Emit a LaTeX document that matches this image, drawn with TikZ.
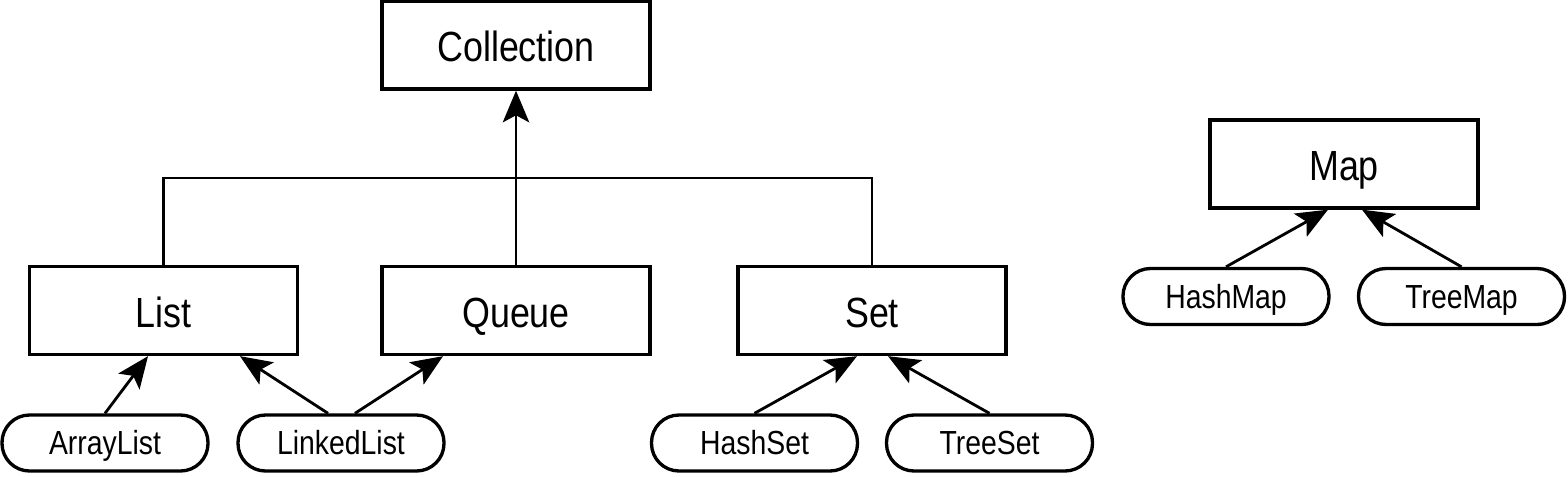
\documentclass[tikz,border=0pt]{standalone}
\usepackage{fontspec}
\usepackage{tikz}
\usetikzlibrary{positioning,arrows.meta}
\newfontfamily\narrowsans{Liberation Sans}[FakeStretch=0.85]

\begin{document}
\begin{tikzpicture}[every node/.style={font=\narrowsans}]
  \tikzset{
      iface/.style={draw, line width=1.9pt, minimum width=5.36cm, minimum height=1.76cm, text height=22pt, text depth=3pt, font=\narrowsans\fontsize{24}{28}\selectfont},
      impl/.style={draw, rounded corners=0.55cm, line width=1.9pt, minimum width=4.12cm, minimum height=1.12cm, text height=15.5pt, text depth=2pt, font=\narrowsans\fontsize{19}{23}\selectfont},
      link/.style={line width=1.6pt},
      inherit/.style={line width=1.6pt, -{Stealth[length=18pt, width=15pt, inset=4pt]}}
  }
  \useasboundingbox (0,0) rectangle (31.36,9.52);

  \node[iface] (coll)  at (10.32, 8.62) {Collection};
  \node[iface] (list)  at (3.27, 3.31)  {List};
  \node[iface] (queue) at (10.32, 3.31) {Queue};
  \node[iface] (set)   at (17.44, 3.31) {Set};
  \node[iface] (map)   at (26.88, 6.24) {Map};

  \node[impl] (arraylist)  at (2.10, 0.66)  {ArrayList};
  \node[impl] (linkedlist) at (6.82, 0.66)  {LinkedList};
  \node[impl] (hashset)    at (15.09, 0.66) {HashSet};
  \node[impl] (treeset)    at (19.79, 0.66) {TreeSet};
  \node[impl] (hashmap)    at (24.52, 3.59) {HashMap};
  \node[impl] (treemap)    at (29.23, 3.59) {TreeMap};

  \coordinate (bar) at (10.32, 5.96);
  \draw[link] (list.north) |- (bar) -| (set.north);
  \draw[inherit] (queue.north) -- (coll.south);

  \draw[inherit] (arraylist.north) -- ([xshift=-0.31cm]list.south);
  \draw[inherit] ([xshift=-0.26cm]linkedlist.north) -- ([xshift=1.53cm]list.south);
  \draw[inherit] ([xshift=0.28cm]linkedlist.north) -- ([xshift=-1.46cm]queue.south);
  \draw[inherit] (hashset.north) -- ([xshift=-0.30cm]set.south);
  \draw[inherit] (treeset.north) -- ([xshift=0.32cm]set.south);
  \draw[inherit] (hashmap.north) -- ([xshift=-0.32cm]map.south);
  \draw[inherit] (treemap.north) -- ([xshift=0.36cm]map.south);
\end{tikzpicture}
\end{document}
